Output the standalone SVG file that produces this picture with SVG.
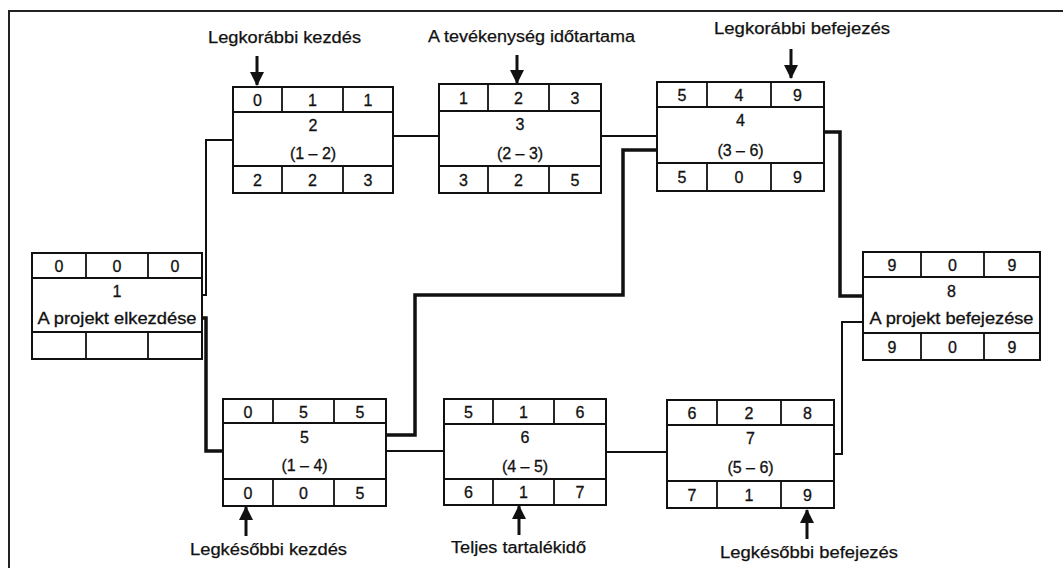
<svg xmlns="http://www.w3.org/2000/svg" width="1063" height="568" viewBox="0 0 1063 568">
<style>
.box{fill:#fff;stroke:#111;stroke-width:2}
.div{stroke:#111;stroke-width:1.8;fill:none}
.num{font-family:"Liberation Sans",Arial,sans-serif;font-size:16px;fill:#111;stroke:#111;stroke-width:0.3;text-anchor:middle}
.mid{font-family:"Liberation Sans",Arial,sans-serif;font-size:16px;fill:#111;stroke:#111;stroke-width:0.3;text-anchor:middle}
.lbl{font-family:"Liberation Sans",Arial,sans-serif;font-size:16px;fill:#111;stroke:#111;stroke-width:0.25;text-anchor:middle}
.thin{fill:none;stroke:#111;stroke-width:2}
.thick{fill:none;stroke:#111;stroke-width:3.5}
.arr{stroke:#111;stroke-width:3;fill:none}
</style>
<defs>
<marker id="ah" markerUnits="userSpaceOnUse" markerWidth="14" markerHeight="14" viewBox="0 0 14 14" refX="13" refY="7" orient="auto">
<path d="M0,0 L14,7 L0,14 Z" fill="#111"/>
</marker>
</defs>
<rect width="1063" height="568" fill="#fff"/>
<path d="M9,568 V11 H1063" fill="none" stroke="#222" stroke-width="2"/>

<g id="connectors">
<path class="thin" d="M202,295 H206 V140 H233"/>
<path class="thick" d="M202,318 H206 V451 H223"/>
<path class="thin" d="M393,136 H439"/>
<path class="thin" d="M601,136 H657"/>
<path class="thick" d="M386,435 H415 V295 H623 V150 H657"/>
<path class="thin" d="M386,451 H444"/>
<path class="thin" d="M606,452 H667"/>
<path class="thin" d="M834,454 H842 V322 H863"/>
<path class="thick" d="M824,132 H840 V296 H863"/>
</g>

<g id="n1">
<rect class="box" x="32" y="253" width="170" height="106"/>
<path class="div" d="M32,278 H202 M32,332 H202 M86,253 V278 M148,253 V278 M86,332 V359 M148,332 V359"/>
<text class="num" x="59" y="271.5">0</text><text class="num" x="117" y="271.5">0</text><text class="num" x="175" y="271.5">0</text>
<text class="mid" x="117" y="297">1</text>
<text class="mid" x="117" y="324" textLength="159" lengthAdjust="spacingAndGlyphs">A projekt elkezdése</text>
</g>

<g id="n2">
<rect class="box" x="233" y="87" width="160" height="106"/>
<path class="div" d="M233,112 H393 M233,166 H393 M282,87 V112 M343,87 V112 M282,166 V193 M343,166 V193"/>
<text class="num" x="257.5" y="105.5">0</text><text class="num" x="312.5" y="105.5">1</text><text class="num" x="368" y="105.5">1</text>
<text class="mid" x="313" y="131">2</text>
<text class="mid" x="313" y="159">(1 – 2)</text>
<text class="num" x="257.5" y="185.5">2</text><text class="num" x="312.5" y="185.5">2</text><text class="num" x="368" y="185.5">3</text>
</g>

<g id="n3">
<rect class="box" x="439" y="84" width="162" height="109"/>
<path class="div" d="M439,111 H601 M439,166 H601 M488,84 V111 M549,84 V111 M488,166 V193 M549,166 V193"/>
<text class="num" x="463.5" y="103.5">1</text><text class="num" x="518.5" y="103.5">2</text><text class="num" x="575" y="103.5">3</text>
<text class="mid" x="520" y="130">3</text>
<text class="mid" x="520" y="159">(2 – 3)</text>
<text class="num" x="463.5" y="185.5">3</text><text class="num" x="518.5" y="185.5">2</text><text class="num" x="575" y="185.5">5</text>
</g>

<g id="n4">
<rect class="box" x="657" y="82" width="167" height="109"/>
<path class="div" d="M657,107 H824 M657,163 H824 M707,82 V107 M771,82 V107 M707,163 V191 M771,163 V191"/>
<text class="num" x="682" y="100.5">5</text><text class="num" x="739" y="100.5">4</text><text class="num" x="797.5" y="100.5">9</text>
<text class="mid" x="740.5" y="126">4</text>
<text class="mid" x="740.5" y="156">(3 – 6)</text>
<text class="num" x="682" y="183">5</text><text class="num" x="739" y="183">0</text><text class="num" x="797.5" y="183">9</text>
</g>

<g id="n5">
<rect class="box" x="223" y="399" width="163" height="107"/>
<path class="div" d="M223,423 H386 M223,479 H386 M273,399 V423 M334,399 V423 M273,479 V506 M334,479 V506"/>
<text class="num" x="248" y="417.5">0</text><text class="num" x="303.5" y="417.5">5</text><text class="num" x="360" y="417.5">5</text>
<text class="mid" x="304.5" y="443">5</text>
<text class="mid" x="304.5" y="471">(1 – 4)</text>
<text class="num" x="248" y="498.5">0</text><text class="num" x="303.5" y="498.5">0</text><text class="num" x="360" y="498.5">5</text>
</g>

<g id="n6">
<rect class="box" x="444" y="399" width="162" height="106"/>
<path class="div" d="M444,424 H606 M444,479 H606 M493,399 V424 M554,399 V424 M493,479 V505 M554,479 V505"/>
<text class="num" x="468.5" y="417.5">5</text><text class="num" x="523.5" y="417.5">1</text><text class="num" x="580" y="417.5">6</text>
<text class="mid" x="525" y="443">6</text>
<text class="mid" x="525" y="472">(4 – 5)</text>
<text class="num" x="468.5" y="498">6</text><text class="num" x="523.5" y="498">1</text><text class="num" x="580" y="498">7</text>
</g>

<g id="n7">
<rect class="box" x="667" y="400" width="167" height="108"/>
<path class="div" d="M667,425 H834 M667,481 H834 M717,400 V425 M781,400 V425 M717,481 V508 M781,481 V508"/>
<text class="num" x="692" y="418.5">6</text><text class="num" x="749" y="418.5">2</text><text class="num" x="807.5" y="418.5">8</text>
<text class="mid" x="750.5" y="444">7</text>
<text class="mid" x="750.5" y="473">(5 – 6)</text>
<text class="num" x="692" y="500.5">7</text><text class="num" x="749" y="500.5">1</text><text class="num" x="807.5" y="500.5">9</text>
</g>

<g id="n8">
<rect class="box" x="863" y="252" width="177" height="108"/>
<path class="div" d="M863,277 H1040 M863,333 H1040 M921,252 V277 M984,252 V277 M921,333 V360 M984,333 V360"/>
<text class="num" x="892" y="270.5">9</text><text class="num" x="952.5" y="270.5">0</text><text class="num" x="1012" y="270.5">9</text>
<text class="mid" x="951.5" y="297">8</text>
<text class="mid" x="951.5" y="324" textLength="164" lengthAdjust="spacingAndGlyphs">A projekt befejezése</text>
<text class="num" x="892" y="352.5">9</text><text class="num" x="952.5" y="352.5">0</text><text class="num" x="1012" y="352.5">9</text>
</g>

<g id="annotations">
<text class="lbl" x="284.5" y="43" textLength="153" lengthAdjust="spacingAndGlyphs">Legkorábbi kezdés</text>
<line class="arr" x1="257" y1="56" x2="257" y2="85" marker-end="url(#ah)"/>
<text class="lbl" x="531.5" y="42" textLength="207" lengthAdjust="spacingAndGlyphs">A tevékenység időtartama</text>
<line class="arr" x1="517" y1="55" x2="517" y2="83" marker-end="url(#ah)"/>
<text class="lbl" x="802" y="34" textLength="176" lengthAdjust="spacingAndGlyphs">Legkorábbi befejezés</text>
<line class="arr" x1="791" y1="49" x2="791" y2="78" marker-end="url(#ah)"/>
<text class="lbl" x="268.5" y="555" textLength="157" lengthAdjust="spacingAndGlyphs">Legkésőbbi kezdés</text>
<line class="arr" x1="246" y1="536" x2="246" y2="507" marker-end="url(#ah)"/>
<text class="lbl" x="518.5" y="553" textLength="135" lengthAdjust="spacingAndGlyphs">Teljes tartalékidő</text>
<line class="arr" x1="519" y1="535" x2="519" y2="506" marker-end="url(#ah)"/>
<text class="lbl" x="809" y="558" textLength="178" lengthAdjust="spacingAndGlyphs">Legkésőbbi befejezés</text>
<line class="arr" x1="807" y1="539" x2="807" y2="510" marker-end="url(#ah)"/>
</g>
</svg>
